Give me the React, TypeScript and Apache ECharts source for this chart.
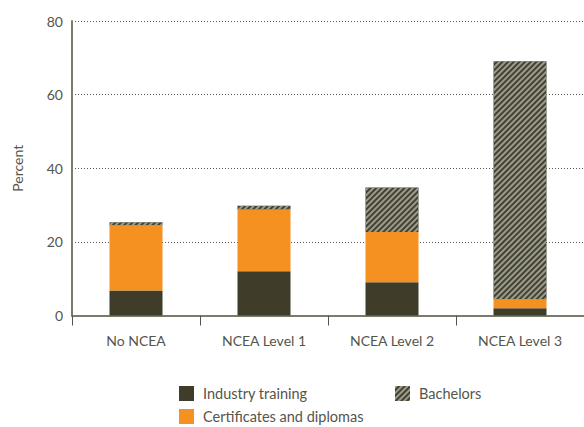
import React, { useEffect, useRef } from "react";
import * as echarts from "echarts";

const categories = ["No NCEA", "NCEA Level 1", "NCEA Level 2", "NCEA Level 3"];
const industryTraining = [6.8, 12.0, 9.0, 2.0];
const certificatesDiplomas = [17.7, 16.8, 13.7, 2.4];
const bachelors = [0.8, 1.0, 12.1, 64.7];
const yTicks = { min: 0, max: 80, interval: 20 };

const FONT = "Lato";
const TEXT = "#55554a";

export default function App() {
  const ref = useRef<HTMLDivElement>(null);
  useEffect(() => {
    if (!ref.current) return;
    const chart = echarts.init(ref.current, undefined, { renderer: "svg" });
    const decal = {
      symbol: "rect",
      symbolSize: 1,
      dashArrayX: [[1, 0]],
      dashArrayY: [1.5, 2],
      rotation: -Math.PI / 4,
      color: "rgba(165,165,150,0.9)",
    };
    const legendBase = {
      orient: "horizontal",
      itemWidth: 15,
      itemHeight: 15,
      icon: "rect",
      padding: 0,
      textStyle: { fontSize: 14.5, color: TEXT, fontFamily: FONT, padding: [0, 0, 0, 4] },
    };
    chart.setOption({
      animation: false,
      textStyle: { fontFamily: FONT },
      grid: { left: 72, top: 21, right: -8, bottom: 111.5 },
      legend: [
        { ...legendBase, left: 179, top: 386, data: ["Industry training"] },
        { ...legendBase, left: 179, top: 409, data: ["Certificates and diplomas"] },
        { ...legendBase, left: 395, top: 386, data: ["Bachelors"] },
      ],
      xAxis: {
        type: "category",
        data: categories,
        axisLine: { lineStyle: { color: "#7d7b6b", width: 2 } },
        axisTick: { show: true, length: 10, alignWithLabel: false, lineStyle: { color: "#55554a", width: 1 } },
        axisLabel: { color: TEXT, fontSize: 14, margin: 18, fontFamily: FONT },
      },
      yAxis: {
        type: "value",
        min: yTicks.min,
        max: yTicks.max,
        interval: yTicks.interval,
        name: "Percent",
        nameLocation: "middle",
        nameGap: 48,
        nameRotate: 90,
        nameTextStyle: { color: TEXT, fontSize: 14, fontFamily: FONT },
        axisLine: { show: true, lineStyle: { color: "#7d7b6b", width: 2 } },
        axisTick: { show: false },
        axisLabel: { color: TEXT, fontSize: 14, margin: 9, fontFamily: FONT },
        splitLine: { lineStyle: { color: "#55554a", type: [1, 2], width: 1 } },
      },
      series: [
        {
          name: "Industry training",
          type: "bar",
          stack: "total",
          barWidth: 53,
          data: industryTraining,
          itemStyle: { color: "#3f3d2a" },
        },
        {
          name: "Certificates and diplomas",
          type: "bar",
          stack: "total",
          barWidth: 53,
          data: certificatesDiplomas,
          itemStyle: { color: "#f59120" },
        },
        {
          name: "Bachelors",
          type: "bar",
          stack: "total",
          barWidth: 53,
          data: bachelors,
          itemStyle: { color: "#434232", decal },
        },
      ],
    });
    return () => chart.dispose();
  }, []);
  return (
    <div
      ref={ref}
      style={{ position: "absolute", left: 0, top: 0, width: 584, height: 427 }}
    />
  );
}
